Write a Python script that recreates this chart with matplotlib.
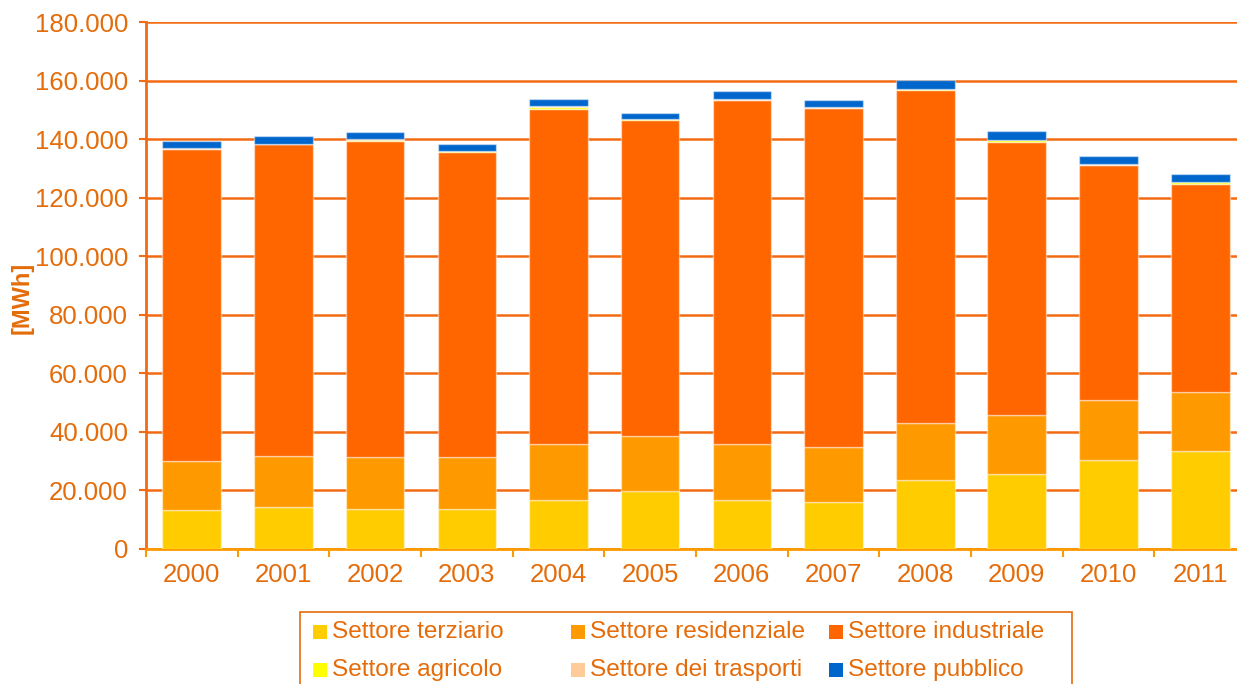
import matplotlib
matplotlib.use("Agg")
import matplotlib.pyplot as plt
from matplotlib.patches import Rectangle
from matplotlib.ticker import FuncFormatter, FixedLocator
import numpy as np

plt.rcParams['font.family'] = ['Liberation Sans', 'DejaVu Sans']

years = ['2000', '2001', '2002', '2003', '2004', '2005', '2006', '2007', '2008', '2009', '2010', '2011']
series_names = ['Settore terziario', 'Settore residenziale', 'Settore industriale',
                'Settore agricolo', 'Settore dei trasporti', 'Settore pubblico']
colors = ['#FFCC00', '#FF9900', '#FF6600', '#FFFF00', '#FFCC99', '#0066CC']

# values in MWh
terziario    = [13300, 14200, 13600, 13600, 16700, 19900, 16900, 16000, 23700, 25500, 30500, 33600]
residenziale = [16700, 17600, 17800, 17800, 19100, 18700, 19100, 18900, 19400, 20400, 20400, 20000]
industriale  = [106500, 106400, 107900, 104200, 114500, 107900, 117300, 115600, 113700, 93200, 80200, 71100]
agricolo     = [200, 200, 500, 200, 700, 200, 200, 200, 200, 500, 200, 500]
trasporti    = [100, 100, 100, 100, 200, 100, 100, 100, 100, 100, 100, 100]
pubblico     = [2500, 2500, 2500, 2500, 2500, 2200, 2900, 2700, 3000, 3200, 2900, 2700]

data = [terziario, residenziale, industriale, agricolo, trasporti, pubblico]

W, H = 1237, 684
fig = plt.figure(figsize=(W / 100, H / 100), dpi=100)
ax = fig.add_axes([146 / W, 1 - 549 / H, (1246 - 146) / W, (549 - 22) / H])

txt = '#E46C0A'
line_c = '#F36A12'

x = np.arange(len(years))
bottom = np.zeros(len(years))
for vals, col, name in zip(data, colors, series_names):
    ax.bar(x, vals, width=0.64, bottom=bottom, color=col, label=name,
           edgecolor=(1, 1, 1, 0.45), linewidth=1.0, zorder=3)
    bottom += np.array(vals)

ax.set_xlim(-0.5, len(years) - 0.5)
ax.set_ylim(0, 180000)
ax.set_yticks(np.arange(0, 180001, 20000))
ax.yaxis.set_major_formatter(FuncFormatter(lambda v, p: f"{v:,.0f}".replace(',', '.')))
ax.grid(axis='y', color=line_c, linewidth=1.8, zorder=1)
ax.set_axisbelow(True)

ax.set_xticks(x)
ax.set_xticklabels(years)
ax.xaxis.set_minor_locator(FixedLocator(np.arange(-0.5, len(years), 1.0)))
ax.tick_params(axis='x', which='major', length=0, pad=10, labelsize=18.5, labelcolor=txt)
ax.tick_params(axis='x', which='minor', length=6, width=1.5, color='#FF9900')
ax.tick_params(axis='y', length=5, width=1.5, color=line_c, pad=8, labelsize=18.5, labelcolor=txt)

for s in ['top', 'right']:
    ax.spines[s].set_visible(False)
ax.spines['left'].set_color(line_c)
ax.spines['left'].set_linewidth(2)
ax.spines['bottom'].set_color('#FF9900')
ax.spines['bottom'].set_linewidth(2)

fig.text(22 / W, 1 - 298 / H, '[MWh]', rotation=90, ha='center', va='center',
         fontsize=17, fontweight='bold', color=txt)

# legend (manual layout to match fixed column positions)
fig.patches.append(Rectangle((300 / W, -0.05), (1072 - 300) / W, 0.05 + (1 - 612 / H),
                             transform=fig.transFigure, facecolor='white',
                             edgecolor='#E46C0A', linewidth=1.2, zorder=1))
col_x = [313, 571, 829]
row_y = [632, 670]
for k, name in enumerate(series_names):
    r, c = divmod(k, 3)
    mx, my = col_x[c], row_y[r]
    fig.patches.append(Rectangle((mx / W, 1 - (my + 7) / H), 14 / W, 14 / H,
                                 transform=fig.transFigure, facecolor=colors[k],
                                 edgecolor='none', zorder=2))
    fig.text((mx + 19) / W, 1 - my / H, name, ha='left', va='center',
             fontsize=17.6, color=txt, zorder=3)

fig.savefig('out.png', dpi=100)
